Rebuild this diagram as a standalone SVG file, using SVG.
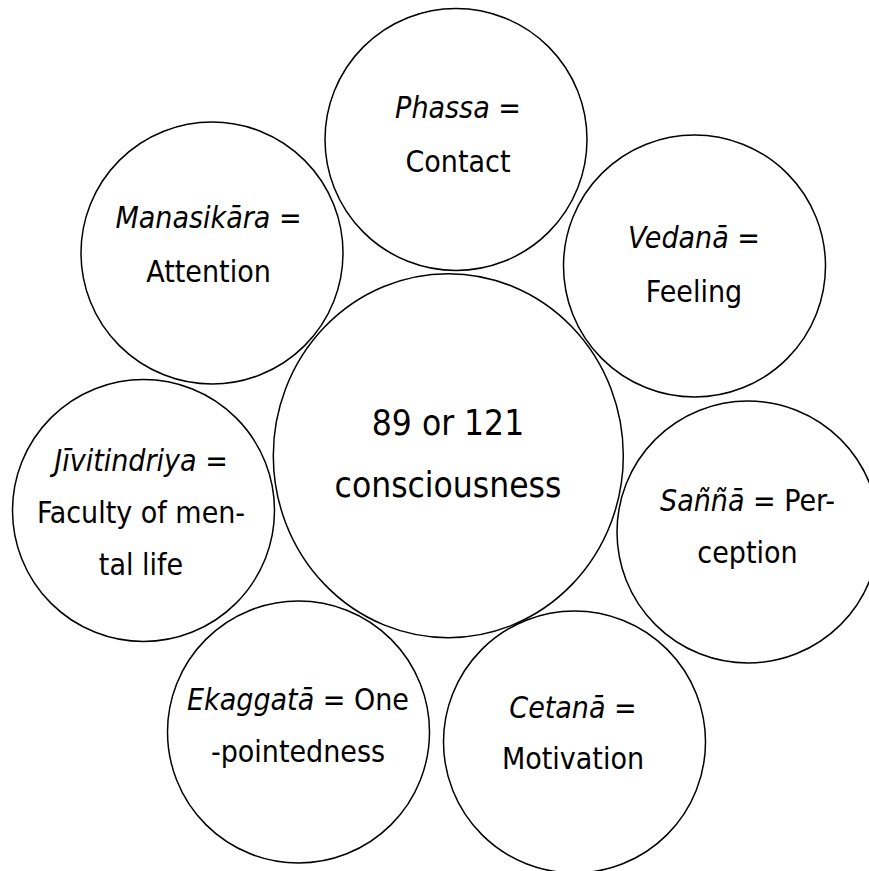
<svg xmlns="http://www.w3.org/2000/svg" width="869" height="871" viewBox="0 0 869 871">
<style>
.c{fill:none;stroke:#000;stroke-width:1.5}
text{font-family:"DejaVu Sans Condensed","DejaVu Sans",sans-serif;font-stretch:condensed;font-size:30px;fill:#000;text-anchor:middle}
.big{font-size:35px}
.i{font-style:italic}
</style>
<rect width="869" height="871" fill="#fff"/>
<g id="connectors"/>
<g id="center">
<ellipse class="c" cx="448.3" cy="455.7" rx="175" ry="182"/>
<text class="big" x="448" y="435">89 or 121</text>
<text class="big" x="448" y="497">consciousness</text>
</g>
<g id="phassa">
<circle class="c" cx="456" cy="139.5" r="131"/>
<text x="458" y="118"><tspan class="i">Phassa</tspan> =</text>
<text x="458" y="172">Contact</text>
</g>
<g id="manasikara">
<circle class="c" cx="212" cy="253" r="131"/>
<text x="208.5" y="228"><tspan class="i">Manasikāra</tspan> =</text>
<text x="208.5" y="282">Attention</text>
</g>
<g id="vedana">
<circle class="c" cx="694.5" cy="266" r="131"/>
<text x="694" y="248"><tspan class="i">Vedanā</tspan> =</text>
<text x="694" y="302">Feeling</text>
</g>
<g id="jivitindriya">
<circle class="c" cx="143.5" cy="510.5" r="131"/>
<text x="141" y="471"><tspan class="i">Jīvitindriya</tspan> =</text>
<text x="141" y="523">Faculty of men-</text>
<text x="141" y="575">tal life</text>
</g>
<g id="sanna">
<circle class="c" cx="748" cy="532" r="131"/>
<text x="747.5" y="511"><tspan class="i">Saññā</tspan> = Per-</text>
<text x="747.5" y="563">ception</text>
</g>
<g id="ekaggata">
<circle class="c" cx="298.5" cy="732" r="131"/>
<text x="298" y="710"><tspan class="i">Ekaggatā</tspan> = One</text>
<text x="298" y="762">-pointedness</text>
</g>
<g id="cetana">
<circle class="c" cx="574.5" cy="742" r="131"/>
<text x="573" y="718"><tspan class="i">Cetanā</tspan> =</text>
<text x="573" y="769">Motivation</text>
</g>
</svg>
